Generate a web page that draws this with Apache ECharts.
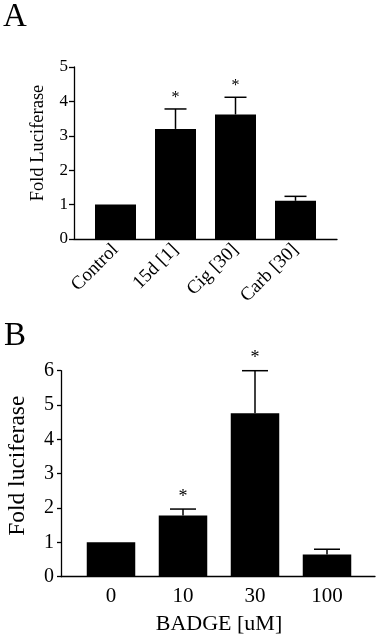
<!DOCTYPE html>
<html>
<head>
<meta charset="utf-8">
<script src="https://cdn.jsdelivr.net/npm/echarts@6/dist/echarts.min.js"></script>
<style>
  html, body { margin: 0; padding: 0; background: #fff; }
  #main { width: 381px; height: 640px; }
</style>
</head>
<body>
<div id="main"></div>
<script>
// panel A
const catsA = ['Control', '15d [1]', 'Cig [30]', 'Carb [30]'];
const meanA = [1.0, 3.2, 3.62, 1.11];
const errA = [0, 0.58, 0.5, 0.13];
const sigA = [false, true, true, false];
const ticksA = [0, 1, 2, 3, 4, 5];

// panel B
const catsB = ['0', '10', '30', '100'];
const meanB = [1.0, 1.78, 4.76, 0.65];
const errB = [0, 0.19, 1.24, 0.15];
const sigB = [false, true, true, false];
const ticksB = [0, 1, 2, 3, 4, 5, 6];

const FONT = '"Liberation Serif", "Times New Roman", serif';

// error bar + asterisk
function errRenderer(capHalf, starSize) {
  return function (params, api) {
    const i = api.value(0);
    const top = api.coord([i, api.value(1)]);
    const hi = api.coord([i, api.value(2)]);
    const children = [];
    if (api.value(2) > api.value(1)) {
      children.push({
        type: 'line',
        shape: { x1: top[0], y1: top[1], x2: hi[0], y2: hi[1] },
        style: { stroke: '#000', lineWidth: 1.5 }
      });
      children.push({
        type: 'line',
        shape: { x1: hi[0] - capHalf, y1: hi[1], x2: hi[0] + capHalf, y2: hi[1] },
        style: { stroke: '#000', lineWidth: 1.5 }
      });
    }
    if (api.value(3)) {
      children.push({
        type: 'text',
        style: {
          text: '*', x: hi[0], y: hi[1] - 3,
          font: starSize + 'px ' + FONT, fill: '#000',
          align: 'center', verticalAlign: 'bottom'
        }
      });
    }
    return { type: 'group', children: children };
  };
}

const errDataA = catsA.map((c, i) => [i, meanA[i], meanA[i] + errA[i], sigA[i] ? 1 : 0]);
const errDataB = catsB.map((c, i) => [i, meanB[i], meanB[i] + errB[i], sigB[i] ? 1 : 0]);

const option = {
  backgroundColor: '#fff',
  animation: false,
  title: [
    { text: 'A', left: 3, top: 1, padding: 0, textStyle: { fontFamily: FONT, fontSize: 33, fontWeight: 'normal', color: '#000' } },
    { text: 'B', left: 4, top: 320, padding: 0, textStyle: { fontFamily: FONT, fontSize: 33, fontWeight: 'normal', color: '#000' } }
  ],
  grid: [
    { left: 85.5, width: 240, top: 67, height: 172, outerBoundsMode: 'none' },   // bars A
    { left: 74, width: 263, top: 67, height: 172, outerBoundsMode: 'none' },     // baseline A
    { left: 75, width: 288, top: 370.7, height: 206, outerBoundsMode: 'none' },  // bars B
    { left: 61, width: 314, top: 370.7, height: 206, outerBoundsMode: 'none' }   // baseline B
  ],
  xAxis: [
    {
      gridIndex: 0, type: 'category', data: catsA,
      axisLine: { show: false }, axisTick: { show: false },
      axisLabel: { rotate: 45, margin: 8, fontFamily: FONT, fontSize: 19, color: '#000' }
    },
    {
      gridIndex: 1, type: 'value', min: 0, max: 1,
      axisLine: { show: true, lineStyle: { color: '#000', width: 1.3 } },
      axisTick: { show: false }, axisLabel: { show: false }, splitLine: { show: false }
    },
    {
      gridIndex: 2, type: 'category', data: catsB,
      axisLine: { show: false }, axisTick: { show: false },
      axisLabel: { margin: 9, fontFamily: FONT, fontSize: 21, color: '#000' },
      name: 'BADGE [uM]', nameLocation: 'middle', nameGap: 37,
      nameTextStyle: { fontFamily: FONT, fontSize: 22, color: '#000' }
    },
    {
      gridIndex: 3, type: 'value', min: 0, max: 1,
      axisLine: { show: true, lineStyle: { color: '#000', width: 1.3 } },
      axisTick: { show: false }, axisLabel: { show: false }, splitLine: { show: false }
    }
  ],
  yAxis: [
    {
      gridIndex: 0, type: 'value', min: ticksA[0], max: ticksA[ticksA.length - 1], interval: 1, offset: 11.5,
      axisLine: { show: true, lineStyle: { color: '#000', width: 1.3 } },
      axisTick: { show: true, length: 5, lineStyle: { color: '#000', width: 1.3 } },
      axisLabel: { margin: 6, fontFamily: FONT, fontSize: 17, color: '#000' },
      splitLine: { show: false },
      name: 'Fold Luciferase', nameLocation: 'middle', nameRotate: 90, nameGap: 26,
      nameTextStyle: { fontFamily: FONT, fontSize: 18.5, color: '#000', padding: [0, 0, 0, 20] }
    },
    { gridIndex: 1, type: 'value', show: false },
    {
      gridIndex: 2, type: 'value', min: ticksB[0], max: ticksB[ticksB.length - 1], interval: 1, offset: 14,
      axisLine: { show: true, lineStyle: { color: '#000', width: 1.3 } },
      axisTick: { show: true, length: 4, lineStyle: { color: '#000', width: 1.3 } },
      axisLabel: { margin: 7, fontFamily: FONT, fontSize: 20, color: '#000' },
      splitLine: { show: false },
      name: 'Fold luciferase', nameLocation: 'middle', nameRotate: 90, nameGap: 31,
      nameTextStyle: { fontFamily: FONT, fontSize: 23.5, color: '#000', padding: [0, 0, 0, 16] }
    },
    { gridIndex: 3, type: 'value', show: false }
  ],
  series: [
    {
      type: 'bar', xAxisIndex: 0, yAxisIndex: 0, data: meanA, barWidth: 41,
      itemStyle: { color: '#000' }
    },
    {
      type: 'custom', xAxisIndex: 0, yAxisIndex: 0, data: errDataA,
      renderItem: errRenderer(11, 16), z: 5
    },
    {
      type: 'bar', xAxisIndex: 2, yAxisIndex: 2, data: meanB, barWidth: 48.5,
      itemStyle: { color: '#000' }
    },
    {
      type: 'custom', xAxisIndex: 2, yAxisIndex: 2, data: errDataB,
      renderItem: errRenderer(13, 18), z: 5
    }
  ]
};

const myChart = echarts.init(document.getElementById('main'));
myChart.setOption(option);
</script>
</body>
</html>
